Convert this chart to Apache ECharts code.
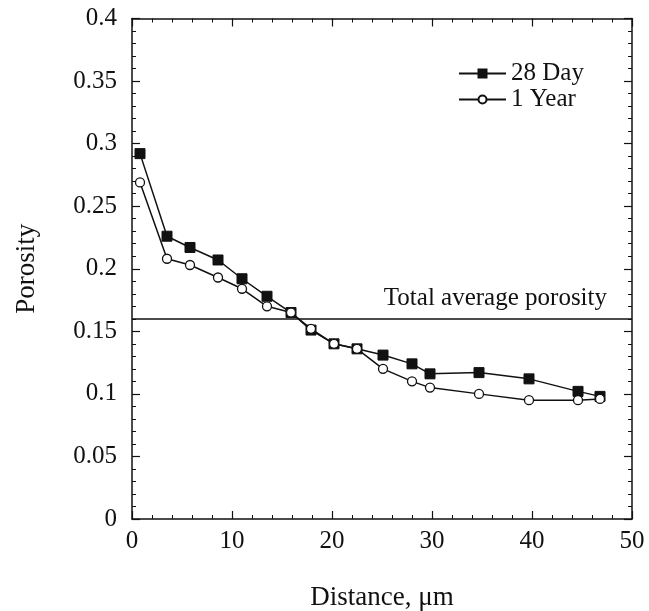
<!DOCTYPE html>
<html>
<head>
<meta charset="utf-8">
<script src="https://cdn.jsdelivr.net/npm/echarts@6/dist/echarts.min.js"></script>
<style>
  html, body { margin: 0; padding: 0; background: #fff; }
  #chart { width: 649px; height: 611px; }
</style>
</head>
<body>
<div id="chart"></div>
<script>
// Data
var distance = [0.8, 3.5, 5.8, 8.6, 11.0, 13.5, 15.9, 17.9, 20.2, 22.5, 25.1, 28.0, 29.8, 34.7, 39.7, 44.6, 46.8];
var porosity28Day = [0.292, 0.226, 0.217, 0.207, 0.192, 0.178, 0.165, 0.151, 0.140, 0.136, 0.131, 0.124, 0.116, 0.117, 0.112, 0.102, 0.098];
var porosity1Year = [0.269, 0.208, 0.203, 0.193, 0.184, 0.170, 0.165, 0.152, 0.140, 0.136, 0.120, 0.110, 0.105, 0.100, 0.095, 0.095, 0.096];
var totalAveragePorosity = 0.161;
var seriesNames = ['28 Day', '1 Year'];
var annotationText = 'Total average porosity';
var xAxisTitle = 'Distance, \u03bcm';
var yAxisTitle = 'Porosity';

var FONT = '"Liberation Serif", "Times New Roman", serif';
var INK = '#111';

function pairs(xs, ys) {
  return xs.map(function (x, i) { return [x, ys[i]]; });
}

var chart = echarts.init(document.getElementById('chart'), null, { renderer: 'canvas' });

var axisCommon = {
  axisLine: { show: true, onZero: false, lineStyle: { color: INK, width: 1.5 } },
  axisTick: { show: true, inside: true, length: 8, lineStyle: { color: INK, width: 1.2 } },
  minorTick: { show: true, splitNumber: 5, length: 4, lineStyle: { color: INK, width: 1 } },
  splitLine: { show: false },
  minorSplitLine: { show: false }
};

var option = {
  animation: false,
  backgroundColor: '#fff',
  grid: { left: 132, right: 17, top: 18.5, bottom: 92, containLabel: false, outerBoundsMode: 'none' },
  legend: {
    data: seriesNames,
    orient: 'vertical',
    left: 458,
    top: 61,
    padding: 0,
    itemWidth: 47,
    itemHeight: 10,
    itemGap: 1,
    textStyle: { fontFamily: FONT, fontSize: 25, color: INK },
    inactiveColor: '#999'
  },
  xAxis: [
    Object.assign({
      type: 'value', min: 0, max: 50, interval: 10, position: 'bottom',
      name: xAxisTitle, nameLocation: 'middle', nameGap: 65,
      nameTextStyle: { fontFamily: FONT, fontSize: 27, color: INK },
      axisLabel: { fontFamily: FONT, fontSize: 25, color: INK, margin: 10 }
    }, axisCommon),
    Object.assign({
      type: 'value', min: 0, max: 50, interval: 10, position: 'top',
      axisLabel: { show: false }
    }, axisCommon)
  ],
  yAxis: [
    Object.assign({
      type: 'value', min: 0, max: 0.4, interval: 0.05, position: 'left',
      name: yAxisTitle, nameLocation: 'middle', nameGap: 92,
      nameTextStyle: { fontFamily: FONT, fontSize: 27, color: INK },
      axisLabel: { fontFamily: FONT, fontSize: 25, color: INK, margin: 15 }
    }, axisCommon),
    Object.assign({
      type: 'value', min: 0, max: 0.4, interval: 0.05, position: 'right',
      axisLabel: { show: false }
    }, axisCommon)
  ],
  series: [
    {
      name: 'avg',
      type: 'line',
      data: [],
      silent: true,
      markLine: {
        silent: true,
        symbol: ['none', 'none'],
        lineStyle: { color: INK, width: 1.5, type: 'solid' },
        label: {
          show: true,
          position: 'insideEndTop',
          formatter: annotationText,
          fontFamily: FONT, fontSize: 25, color: INK,
          distance: [25, 8]
        },
        data: [{ yAxis: totalAveragePorosity }]
      }
    },
    {
      name: seriesNames[0],
      type: 'line',
      data: pairs(distance, porosity28Day),
      symbol: 'rect',
      symbolSize: 10,
      showAllSymbol: true,
      lineStyle: { color: INK, width: 1.5 },
      itemStyle: { color: INK, borderColor: INK, borderWidth: 1 },
      z: 3
    },
    {
      name: seriesNames[1],
      type: 'line',
      data: pairs(distance, porosity1Year),
      symbol: 'circle',
      symbolSize: 9,
      showAllSymbol: true,
      lineStyle: { color: INK, width: 1.5 },
      itemStyle: { color: '#fff', borderColor: INK, borderWidth: 1.3 },
      z: 4
    }
  ]
};

chart.setOption(option);
</script>
</body>
</html>
